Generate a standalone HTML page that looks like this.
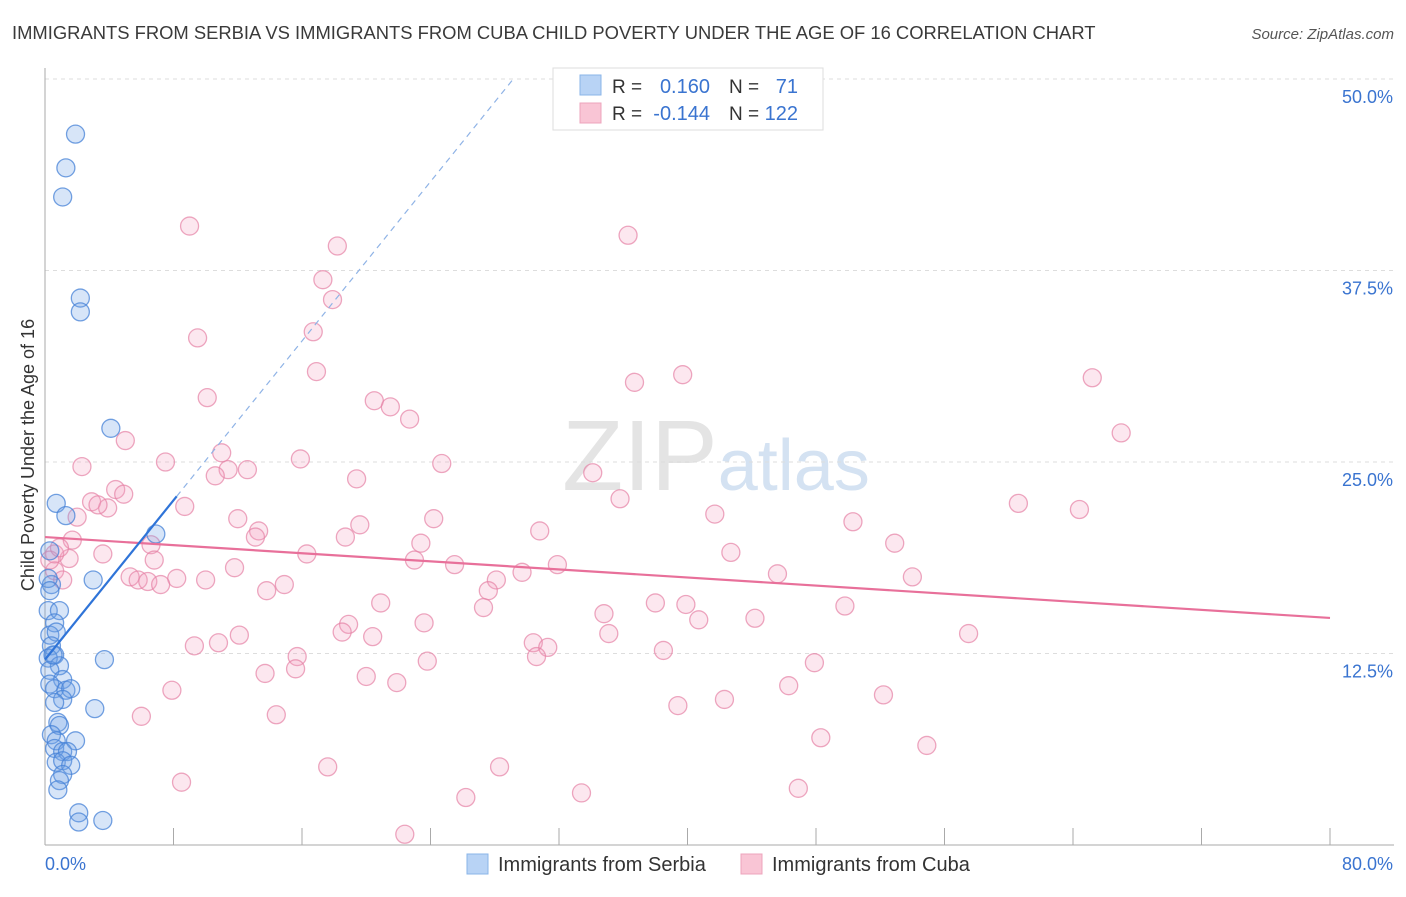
<!DOCTYPE html>
<html><head><meta charset="utf-8"><style>
body{margin:0;background:#fff;font-family:"Liberation Sans",sans-serif;}
svg text{font-family:"Liberation Sans",sans-serif;}
</style></head><body>
<svg id="chart" width="1406" height="892" xmlns="http://www.w3.org/2000/svg">
<text x="12" y="39" font-size="18.4" fill="#3a3a3a">IMMIGRANTS FROM SERBIA VS IMMIGRANTS FROM CUBA CHILD POVERTY UNDER THE AGE OF 16 CORRELATION CHART</text>
<text x="1394" y="39" font-size="15" fill="#555" text-anchor="end" font-style="italic">Source: ZipAtlas.com</text>
<text x="716" y="490" font-size="100" text-anchor="middle" fill="#e4e4e4" font-family="Liberation Serif">ZIP<tspan fill="#d4e2f2" font-family="Liberation Sans" font-size="72">atlas</tspan></text>
<g id="grid"></g><g id="axes"></g><g id="lines-under"></g><g id="points"></g><g id="lines"></g>
<text transform="translate(34,455) rotate(-90)" font-size="18" fill="#333" text-anchor="middle">Child Poverty Under the Age of 16</text>
<g>
<rect x="553" y="68" width="270" height="62" fill="#fff" stroke="#ddd"/>
<rect x="580" y="75" width="21" height="20" fill="#b8d3f5" stroke="#8ab4e8"/>
<rect x="580" y="103" width="21" height="20" fill="#f9c5d5" stroke="#eda4bc"/>
<text x="612" y="93" font-size="19" fill="#333">R =</text><text x="710" y="93" font-size="20" fill="#3a74d0" text-anchor="end">0.160</text>
<text x="729" y="93" font-size="19" fill="#333">N =</text><text x="798" y="93" font-size="20" fill="#3a74d0" text-anchor="end">71</text>
<text x="612" y="120" font-size="19" fill="#333">R =</text><text x="710" y="120" font-size="20" fill="#3a74d0" text-anchor="end">-0.144</text>
<text x="729" y="120" font-size="19" fill="#333">N =</text><text x="798" y="120" font-size="20" fill="#3a74d0" text-anchor="end">122</text>
</g>
<g>
<rect x="467" y="854" width="21" height="20" fill="#b8d3f5" stroke="#8ab4e8"/>
<text x="498" y="871" font-size="20" fill="#333">Immigrants from Serbia</text>
<rect x="741" y="854" width="21" height="20" fill="#f9c5d5" stroke="#eda4bc"/>
<text x="772" y="871" font-size="20" fill="#333">Immigrants from Cuba</text>
</g>
</svg>
<script>
const yTicks=[12.5,25,37.5,50];
const yTickLabels=["12.5%","25.0%","37.5%","50.0%"];
const xTicks=[0,8,16,24,32,40,48,56,64,72,80];
const serbiaX=[1.9,1.3,1.1,2.2,2.2,4.1,0.7,1.3,6.9,3.0,3.7,3.1,0.3,0.4,0.2,0.9,0.6,0.3,0.7,0.4,0.6,0.2,0.9,0.3,1.1,0.3,0.6,1.3,1.6,1.1,0.6,0.8,0.9,0.4,0.7,1.9,0.6,1.1,1.4,0.7,1.1,1.6,1.1,0.9,0.8,2.1,2.1,3.6,0.2,0.3,0.5];
const serbiaY=[46.4,44.2,42.3,35.7,34.8,27.2,22.3,21.5,20.3,17.3,12.1,8.9,19.2,17.0,15.3,15.3,14.5,13.7,13.9,13.0,12.4,12.2,11.7,11.4,10.8,10.5,10.2,10.1,10.2,9.5,9.3,8.0,7.8,7.2,6.8,6.8,6.3,6.1,6.1,5.4,5.5,5.2,4.6,4.2,3.6,2.1,1.5,1.6,17.4,16.6,12.4];
const cubaX=[9.0,36.3,18.2,17.3,17.9,16.7,9.5,16.9,36.7,39.7,65.2,10.1,20.5,21.5,22.7,67.0,5.0,11.0,7.5,2.3,24.7,15.9,12.6,11.4,10.6,34.1,19.4,2.9,4.4,4.9,3.9,3.3,35.8,60.6,64.4,8.7,2.0,12.0,24.2,41.7,50.3,19.6,30.8,13.3,13.1,18.7,1.7,6.6,52.9,23.4,3.6,42.7,16.3,1.5,6.8,31.9,23.0,25.5,11.8,29.7,0.6,1.1,5.3,5.8,6.4,8.2,10.0,7.2,14.9,28.1,13.8,27.6,45.6,54.0,20.9,38.0,39.9,49.8,27.3,34.8,40.7,44.2,23.6,18.9,18.5,20.4,12.1,35.1,57.5,30.4,31.3,9.3,10.8,38.5,15.7,30.6,15.6,23.8,47.9,13.7,20.0,21.9,7.9,46.3,52.2,42.3,39.4,14.4,6.0,48.3,54.9,17.6,28.3,8.5,26.2,33.4,46.9,22.4,0.6,0.3,0.9];
const cubaY=[40.4,39.8,39.1,36.9,35.6,33.5,33.1,30.9,30.2,30.7,30.5,29.2,29.0,28.6,27.8,26.9,26.4,25.6,25.0,24.7,24.9,25.2,24.5,24.5,24.1,24.3,23.9,22.4,23.2,22.9,22.0,22.2,22.6,22.3,21.9,22.1,21.4,21.3,21.3,21.6,21.1,20.9,20.5,20.5,20.1,20.1,19.9,19.6,19.7,19.7,19.0,19.1,19.0,18.7,18.6,18.3,18.6,18.3,18.1,17.8,17.9,17.3,17.5,17.3,17.2,17.4,17.3,17.0,17.0,17.3,16.6,16.6,17.7,17.5,15.8,15.8,15.7,15.6,15.5,15.1,14.7,14.8,14.5,14.4,13.9,13.6,13.7,13.8,13.8,13.2,12.9,13.0,13.2,12.7,12.3,12.3,11.5,12.0,11.9,11.2,11.0,10.6,10.1,10.4,9.8,9.5,9.1,8.5,8.4,7.0,6.5,5.1,5.1,4.1,3.1,3.4,3.7,0.7,19.0,18.6,19.4];
const serbiaTrend=[12.1,1.3];
const cubaTrend=[20.1,-0.066];
const serbiaSolidEnd=8.2, serbiaDashEnd=29.2;

const NS="http://www.w3.org/2000/svg";
const X0=45,X1=1330,YB=845,YT=79;
function xs(v){return X0+(v/80)*(X1-X0);}
function ys(v){return YB-(v/50)*(YB-YT);}
function mk(tag,attrs,parent){const e=document.createElementNS(NS,tag);for(const k in attrs)e.setAttribute(k,attrs[k]);parent.appendChild(e);return e;}
const grid=document.getElementById('grid'),axes=document.getElementById('axes');
yTicks.forEach((t,i)=>{
  const l=mk('line',{x1:X0,x2:1394,y1:ys(t),y2:ys(t),stroke:'#ddd','stroke-dasharray':'4,4'},grid);
  
  
  const tx=mk('text',{x:1393,y:ys(t)+24,'font-size':18,fill:'#3a74d0','text-anchor':'end'},axes);
  tx.textContent=yTickLabels[i];
  
  
});
const ax=mk('line',{x1:X0,x2:X0,y1:68,y2:YB,stroke:'#aaa'},axes);


const xa=mk('line',{x1:X0,x2:1394,y1:YB,y2:YB,stroke:'#aaa'},axes);


xTicks.forEach(t=>{
  const l=mk('line',{x1:xs(t),x2:xs(t),y1:YB,y2:YB-17,stroke:'#aaa'},axes);
  
  
});
const xl0=mk('text',{x:45,y:870,'font-size':18,fill:'#3a74d0'},axes);xl0.textContent='0.0%';


const xl1=mk('text',{x:1393,y:870,'font-size':18,fill:'#3a74d0','text-anchor':'end'},axes);xl1.textContent='80.0%';



const pts=document.getElementById('points');
cubaX.forEach((v,i)=>{
  const c=mk('circle',{cx:xs(v),cy:ys(cubaY[i]),r:9,fill:'rgba(244,160,190,0.25)',stroke:'rgba(230,130,165,0.7)','stroke-width':1.3},pts);
  
  
});
serbiaX.forEach((v,i)=>{
  const c=mk('circle',{cx:xs(v),cy:ys(serbiaY[i]),r:9,fill:'rgba(110,160,230,0.28)',stroke:'rgba(70,130,215,0.75)','stroke-width':1.3},pts);
  
  
});
const lines=document.getElementById('lines');
const pl=mk('line',{x1:xs(0),y1:ys(cubaTrend[0]),x2:xs(80),y2:ys(cubaTrend[0]+cubaTrend[1]*80),stroke:'#e8709a','stroke-width':2.2},lines);


const bl=mk('line',{x1:xs(0),y1:ys(serbiaTrend[0]),x2:xs(serbiaSolidEnd),y2:ys(serbiaTrend[0]+serbiaTrend[1]*serbiaSolidEnd),stroke:'#2f74d8','stroke-width':2.2},lines);


const bd=mk('line',{x1:xs(serbiaSolidEnd),y1:ys(serbiaTrend[0]+serbiaTrend[1]*serbiaSolidEnd),x2:xs(serbiaDashEnd),y2:ys(serbiaTrend[0]+serbiaTrend[1]*serbiaDashEnd),stroke:'#8fb3e6','stroke-width':1.2,'stroke-dasharray':'6,5'},lines);


</script>
</body></html>
